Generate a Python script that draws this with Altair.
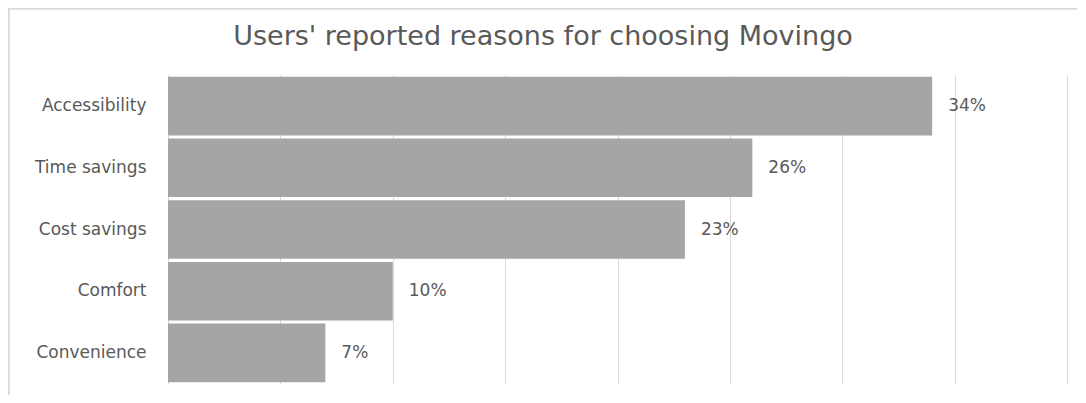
import altair as alt
import pandas as pd

reasons = ["Accessibility", "Time savings", "Cost savings", "Comfort", "Convenience"]
shares = [34, 26, 23, 10, 7]
labels = ["34%", "26%", "23%", "10%", "7%"]
x_ticks = [0, 5, 10, 15, 20, 25, 30, 35, 40]
title_text = "Users' reported reasons for choosing Movingo"

df = pd.DataFrame({"reason": reasons, "share": shares, "label": labels})

FONT = "DejaVu Sans"
GREY_TXT = "#595959"

y_enc = alt.Y(
    "reason:N",
    sort=reasons,
    title=None,
    scale=alt.Scale(paddingInner=0.05, paddingOuter=0.03),
    axis=alt.Axis(
        domain=False, ticks=False, labelPadding=22, labelFontSize=17,
        labelColor=GREY_TXT, labelFont=FONT, grid=False,
    ),
)
x_enc = alt.X(
    "share:Q",
    title=None,
    scale=alt.Scale(domain=[0, 40], nice=False),
    axis=alt.Axis(
        values=x_ticks, labels=False, ticks=False, domain=False,
        grid=True, gridColor="#D9D9D9", gridWidth=1,
    ),
)

base = alt.Chart(df)

bars = base.mark_bar(color="#A5A5A5").encode(x=x_enc, y=y_enc)

text = base.mark_text(
    align="left", baseline="middle", dx=16, fontSize=17, font=FONT, color=GREY_TXT
).encode(x=x_enc, y=y_enc, text="label:N")

title = alt.Chart(pd.DataFrame({"t": [title_text]})).mark_text(
    align="center", baseline="alphabetic", fontSize=27, font=FONT, color=GREY_TXT
).encode(text="t:N", x=alt.value(375), y=alt.value(-30))

frame_left = base.mark_rule(color="#D9D9D9", strokeWidth=1.5).encode(
    x=alt.value(-159.5), y=alt.value(-67), y2=alt.value(340)
)
frame_top = base.mark_rule(color="#D9D9D9", strokeWidth=1.5).encode(
    x=alt.value(-160), x2=alt.value(930), y=alt.value(-66.5)
)

chart = (
    alt.layer(frame_left, frame_top, bars, text, title)
    .properties(
        width=899,
        height=309,
        autosize=alt.AutoSizeParams(type="none"),
        padding={"left": 160, "top": 67, "right": 10, "bottom": 11},
        background="white",
    )
    .configure_view(strokeWidth=0)
)

chart.save("out.html", embed_options={"renderer": "svg", "actions": False})
